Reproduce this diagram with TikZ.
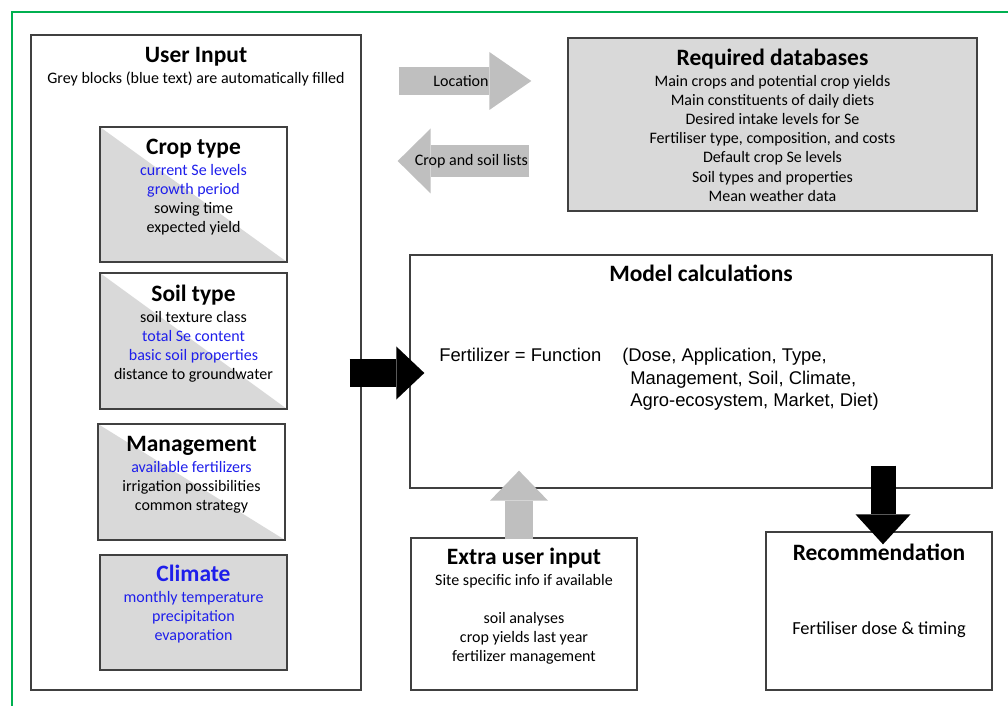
\documentclass[tikz,border=0pt]{standalone}
\usepackage{fontspec}
\setmainfont{Carlito}
\newfontfamily\arialfont{Liberation Sans}
\usetikzlibrary{arrows.meta,fit}

\definecolor{boxgrey}{RGB}{217,217,217}
\definecolor{arrowgrey}{RGB}{191,191,191}
\definecolor{edgegrey}{RGB}{64,64,64}
\definecolor{autoblue}{RGB}{30,30,235}
\definecolor{framegreen}{RGB}{0,176,80}

\begin{document}
\begin{tikzpicture}[x=0.75pt,y=-0.75pt,
        box/.style={draw=edgegrey,line width=1pt,inner sep=0pt},
        halfbox/.style={box,path picture={\fill[boxgrey] (path picture bounding box.north west) -- (path picture bounding box.south east) -- (path picture bounding box.south west) -- cycle;}},
        greybox/.style={box,fill=boxgrey},
        title/.style={font=\fontsize{17.6}{21}\selectfont\bfseries,inner sep=0pt,anchor=base},
        lines/.style={font=\fontsize{12}{14.4}\selectfont,align=center,inner sep=0pt,anchor=north},
        formula/.style={font=\arialfont\fontsize{13.8}{16.9}\selectfont,inner sep=0pt},
        fat/.style n args={3}{line width=#1,-{Triangle[length=#2,width=#3,line width=0pt]}},
        greyarrow/.style n args={3}{draw=arrowgrey,fat={#1}{#2}{#3}},
        blackarrow/.style n args={3}{draw=black,fat={#1}{#2}{#3}},
        arrowtext/.style={font=\fontsize{12}{14.4}\selectfont,inner sep=0pt}]

        \useasboundingbox (0,0) rectangle (1008,706);
        \draw[framegreen,line width=0.9pt] (12,706) -- (12,12) -- (1008,12);

        \node[box,fit={(31,35) (361,690)}]       (ui)    {};
        \node[halfbox,fit={(100,127) (287,262)}] (crop)  {};
        \node[halfbox,fit={(100,273) (287,409)}] (soil)  {};
        \node[halfbox,fit={(98,424) (285,540)}]  (mgmt)  {};
        \node[greybox,fit={(100,555) (287,670)}] (clim)  {};
        \node[greybox,fit={(568,38) (977,211)}]  (db)    {};
        \node[box,fit={(410,255) (992,488)}]     (mc)    {};
        \node[box,fit={(411,538) (637,690)}]     (extra) {};
        \node[box,fit={(766,532) (992,690)}]     (rec)   {};

        \node[title] (uititle) at ([yshift=-21pt]ui.north) {User Input};
        \node[lines] (uinote)  at ([yshift=-7pt]uititle.base) {Grey blocks (blue text) are automatically filled};

        \node[title] (croptitle) at ([yshift=-21pt]crop.north) {Crop type};
        \node[lines] (croplist)  at ([yshift=-7pt]croptitle.base)
            {\textcolor{autoblue}{current Se levels}\\\textcolor{autoblue}{growth period}\\sowing time\\expected yield};

        \node[title] (soiltitle) at ([yshift=-21.75pt]soil.north) {Soil type};
        \node[lines] (soillist)  at ([yshift=-7pt]soiltitle.base)
            {soil texture class\\\textcolor{autoblue}{total Se content}\\\textcolor{autoblue}{basic soil properties}\\distance to groundwater};

        \node[title] (mgmttitle) at ([yshift=-21pt]mgmt.north) {Management};
        \node[lines] (mgmtlist)  at ([yshift=-7pt]mgmttitle.base)
            {\textcolor{autoblue}{available fertilizers}\\irrigation possibilities\\common strategy};

        \node[title,text=autoblue] (climtitle) at ([yshift=-20.25pt]clim.north) {Climate};
        \node[lines,text=autoblue] (climlist)  at ([yshift=-7pt]climtitle.base)
            {monthly temperature\\precipitation\\evaporation};

        \node[title] (dbtitle) at ([yshift=-21pt]db.north) {Required databases};
        \node[lines] (dblist)  at ([yshift=-7pt]dbtitle.base)
            {Main crops and potential crop yields\\Main constituents of daily diets\\Desired intake levels for Se\\Fertiliser type, composition, and costs\\Default crop Se levels\\Soil types and properties\\Mean weather data};

        \node[title] (mctitle) at ([yshift=-20.25pt]mc.north) {Model calculations};
        \node[formula,anchor=base west] (fn) at (439,362) {Fertilizer = Function};
        \node[formula,anchor=north west,align=left] (args) at (622,348)
            {(Dose, Application, Type,\\\hspace{6pt}Management, Soil, Climate,\\\hspace{6pt}Agro-ecosystem, Market, Diet)};

        \node[title] (extratitle) at ([yshift=-20.25pt]extra.north) {Extra user input};
        \node[lines] (extralist)  at ([yshift=-7pt]extratitle.base)
            {Site specific info if available\\\mbox{}\\soil analyses\\crop yields last year\\fertilizer management};

        \node[title] (rectitle) at ([yshift=-21.75pt]rec.north) {Recommendation};
        \node[lines,anchor=center,font=\fontsize{13.8}{16}\selectfont] (recnote) at ([yshift=-14pt]rec.center) {Fertiliser dose \& timing};

        \draw[greyarrow={21pt}{31.5pt}{43.5pt}] ([xshift=27.75pt]ui.east |- 0,81) -- ([xshift=-27pt]db.west |- 0,81)
            node[arrowtext,pos=0.47] {Location};
        \draw[greyarrow={24pt}{24.75pt}{48.75pt}] ([xshift=-28.5pt]db.west |- 0,161) -- ([xshift=27pt]ui.east |- 0,161)
            node[arrowtext,pos=0.44] {Crop and soil lists};
        \draw[blackarrow={20.25pt}{21pt}{39.75pt}] ([xshift=-9pt]ui.east |- 0,373) -- ([xshift=11.25pt]mc.west |- 0,373);
        \draw[greyarrow={21pt}{22.5pt}{43.5pt}] ([yshift=-1.5pt]extra.north -| 519,0) -- ([yshift=13.5pt]mc.south -| 519,0);
        \draw[blackarrow={18.75pt}{22.5pt}{41.25pt}] ([yshift=17.25pt]mc.south -| 883,0) -- ([yshift=-9.75pt]rec.north -| 883,0);
\end{tikzpicture}
\end{document}
